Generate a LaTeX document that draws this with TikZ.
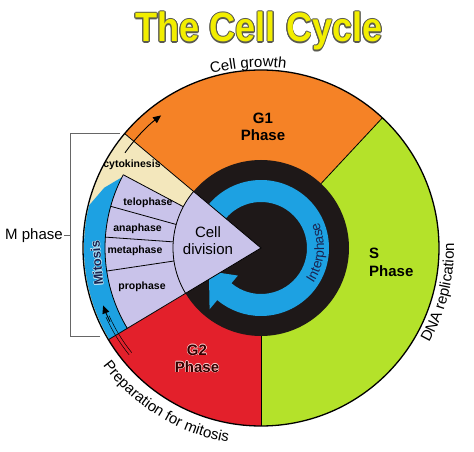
\documentclass[tikz,border=0pt]{standalone}
\usepackage{fontspec}
\setmainfont{Liberation Sans}
\usepackage{contour}
\usetikzlibrary{decorations.text,arrows.meta}
\definecolor{g1orange}{RGB}{245,130,38}
\definecolor{sgreen}{RGB}{180,226,42}
\definecolor{g2red}{RGB}{227,32,43}
\definecolor{lilac}{RGB}{201,195,234}
\definecolor{cream}{RGB}{243,231,188}
\definecolor{cycblue}{RGB}{29,161,226}
\definecolor{ringblack}{RGB}{30,24,24}
\definecolor{titleyellow}{RGB}{242,238,0}
\definecolor{titleline}{RGB}{90,90,80}
\definecolor{navy}{RGB}{25,35,80}
\tikzstyle{wedge}=[draw=black, line width=0.8pt]
\tikzstyle{phase}=[align=center, font=\fontsize{15}{17}\selectfont\bfseries, inner sep=0pt]
\tikzstyle{subphase}=[font=\fontsize{10.5}{12}\selectfont\bfseries, inner sep=0pt]
\tikzstyle{annot}=[font=\fontsize{15}{17}\selectfont, inner sep=1pt]
\tikzstyle{bracket}=[draw=black!60, line width=1pt]
\tikzstyle{cycarrow}=[line width=0.9pt, -{Triangle[length=8pt,width=7pt]}]
\newcommand{\ringsector}[4]{\fill[#1] (0,0) -- (#2:#4) arc[start angle=#2, end angle=#3, radius=#4] -- cycle;}
\newcommand{\arclabel}[5]{\path[decorate, decoration={text along path, text align=center, text color=#5,
    text={|\fontsize{15}{17}\selectfont|#1}}] (#2:#4) arc[start angle=#2, end angle=#3, radius=#4];}
\begin{document}
\begin{tikzpicture}[x=1pt,y=1pt]
	\useasboundingbox (-261,-204) rectangle (213,248);

	% phases
	\ringsector{g1orange}{47}{140}{178}
	\ringsector{sgreen}{-90}{47}{178}
	\ringsector{g2red}{211}{270}{178}
	\ringsector{cream}{140}{211}{178}
	\ringsector{lilac}{152}{211}{156}
	\fill[cycblue] (153:156) arc[start angle=153, end angle=211, radius=156] -- (211:177)
		arc[start angle=211, end angle=166, radius=177] -- (159:168) -- cycle;

	\foreach \a in {47,140,211,270} \draw[wedge] (\a:88) -- (\a:178);
	\foreach \a in {152,164.5,176,188.5} \draw[wedge] (\a:88) -- (\a:156);
	\draw[wedge] (152:156) arc[start angle=152, end angle=211, radius=156];
	\draw[line width=1.3pt] (0,0) circle[radius=178];

	% interphase ring
	\fill[ringblack] (0,0) circle[radius=88];
	\fill[cycblue] (150:68) arc[start angle=150, end angle=-130, radius=68] -- (-130:80) -- (-156:57)
		-- (-130:36) -- (-130:46) arc[start angle=-130, end angle=150, radius=46] -- cycle;
	\draw[wedge, fill=lilac] (0,0) -- (140:88) arc[start angle=140, end angle=211, radius=88] -- cycle;

	% arrows in M phase
	\draw[cycarrow] (145:166) arc[start angle=145, end angle=127, radius=166];
	\foreach \r in {166.3,169.7}
		\draw[line width=0.5pt] (219:\r) arc[start angle=219, end angle=204, radius=\r];
	\draw[cycarrow] (206:168) arc[start angle=206, end angle=200, radius=168];

	% labels
	\node[font=\fontsize{41}{41}\selectfont\bfseries, xscale=0.88, anchor=base, inner sep=0pt] (title) at (-2,206)
		{\contournumber{12}\contourlength{1.1pt}\color{titleyellow}\contour{titleline}{The Cell Cycle}};
	\node[phase] (g1) at (2,121) {G1\\Phase};
	\node[phase, align=left, anchor=west] (s) at (108,-14) {S\\[1pt]Phase};
	\node[phase, text=black!80!red] (g2) at (-64,-111)
		{\contournumber{8}\contourlength{0.5pt}\contour{white!80!red}{G2}\\\contournumber{8}\contourlength{0.5pt}\contour{white!80!red}{Phase}};
	\node[annot, align=center] (division) at (-53,7) {Cell\\division};
	\node[subphase] (cyto) at (-129,83) {cytokinesis};
	\node[subphase] (telo) at (-113,45) {telophase};
	\node[subphase] (ana) at (-123.5,19) {anaphase};
	\node[subphase] (meta) at (-126,-3) {metaphase};
	\node[subphase] (pro) at (-119,-39) {prophase};
	\node[font=\fontsize{13}{15}\selectfont\bfseries, text=navy, rotate=95, inner sep=0pt] (mitosis) at (-164,-15)
		{\contournumber{8}\contourlength{0.5pt}\contour{white!70!cycblue}{Mitosis}};
	\path[decorate, decoration={text along path, text align=center, text color=navy,
		text={|\fontsize{13.5}{15}\selectfont|Interphase}}] (-50:63) arc[start angle=-50, end angle=40, radius=63];

	\arclabel{Cell growth}{110}{78}{181}{black}
	\arclabel{DNA replication}{-40}{12}{193}{black}
	\arclabel{Preparation for mitosis}{205}{272}{197}{black}

	% M phase bracket
	\node[annot] (mlabel) at (-227,12) {M phase};
	\coordinate (btop) at (-190,114);
	\coordinate (bbot) at (-190,-89);
	\coordinate (bmid) at (-190,12);
	\draw[bracket] (-141,114) -- (btop) -- (bbot) -- (-161,-89);
	\draw[bracket] (mlabel.east) -- (bmid);
\end{tikzpicture}
\end{document}
